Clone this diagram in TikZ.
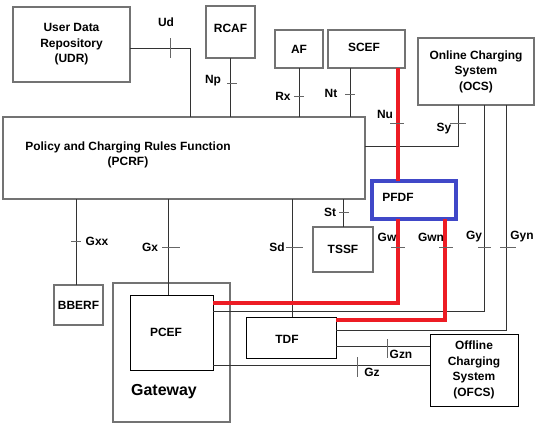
\documentclass[tikz,border=0pt]{standalone}
\usepackage{fontspec}
\setmainfont{Liberation Sans}
\usepackage{xcolor}
\definecolor{ifred}{RGB}{237,28,36}
\definecolor{ifblue}{RGB}{64,72,200}

\begin{document}
\begin{tikzpicture}[x=1bp,y=-1bp,every node/.style={font=\fontsize{12}{15.5}\selectfont\bfseries}]
    \tikzstyle{grey box}=[draw=black!55,line width=1.3bp,inner sep=0,outer sep=0,align=center]
    \tikzstyle{black box}=[draw=black,line width=1bp,inner sep=0,outer sep=0,align=center]
    \tikzstyle{pf box}=[draw=ifblue,line width=4bp,inner sep=0,outer sep=0]
    \tikzstyle{link}=[draw=black!80,line width=1bp]
    \tikzstyle{red link}=[draw=ifred,line width=4bp]
    \tikzstyle{tick mark}=[draw=black!60,line width=1bp]
    \useasboundingbox (0,0) rectangle (536,424);

    % functions
    \node(UDR)[grey box,minimum width=117bp,minimum height=75bp] at (71.5,44.5) {User Data\\Repository\\(UDR)};
    \node(RCAF)[grey box,minimum width=49bp,minimum height=52bp,label={[yshift=4bp]center:RCAF}] at (230.5,32) {};
    \node(PCRF)[grey box,minimum width=362bp,minimum height=82bp,
        label={[align=center,xshift=-56bp,yshift=3bp]center:{Policy and Charging Rules Function\\(PCRF)}}] at (184,158) {};
    \node(AF)[grey box,minimum width=48bp,minimum height=38bp] at (299,49) {AF};
    \node(SCEF)[grey box,minimum width=77bp,minimum height=38bp,label={[xshift=-2.5bp,yshift=2bp]center:SCEF}] at (366.5,49) {};
    \node(OCS)[grey box,minimum width=116bp,minimum height=67bp] at (476,71.5) {Online Charging\\System\\(OCS)};
    \node(PFDF)[pf box,minimum width=84bp,minimum height=38bp,label={[xshift=-16bp,yshift=3bp]center:PFDF}] at (414,200) {};
    \node(TSSF)[grey box,minimum width=60bp,minimum height=45bp] at (343,249.5) {TSSF};
    \node(BBERF)[grey box,minimum width=49bp,minimum height=40bp] at (78.5,305) {BBERF};
    \node(GW)[grey box,minimum width=117bp,minimum height=139bp,
        label={[xshift=-7.5bp,yshift=-39.5bp,font=\fontsize{16}{18}\selectfont\bfseries]center:Gateway}] at (171.5,352.5) {};
    \node(PCEF)[black box,minimum width=83bp,minimum height=75bp,label={[xshift=-5.5bp]center:PCEF}] at (171.5,332.5) {};
    \node(TDF)[black box,minimum width=90bp,minimum height=41bp,label={[xshift=-4bp,yshift=-2bp]center:TDF}] at (291,337.5) {};
    \node(OFCS)[black box,minimum width=88bp,minimum height=72bp] at (474,370) {Offline\\Charging\\System\\(OFCS)};

    % reference points
    \draw[link] (UDR.east |- 0,48) -| (PCRF.north -| 190,0);
    \draw[link] (RCAF.south) -- (RCAF.south |- PCRF.north);
    \draw[link] (AF.south) -- (AF.south |- PCRF.north);
    \draw[link] (SCEF.south -| 350,0) -- (PCRF.north -| 350,0);
    \draw[link] (PCRF.east |- 0,146) -| (OCS.south -| 458,0);
    \draw[link] (PCEF.east |- 0,311) -| (OCS.south -| 484,0);
    \draw[link] (TDF.east |- 0,330) -| (OCS.south -| 506,0);
    \draw[link] (PCRF.south -| TSSF.north) -- (TSSF.north);
    \draw[link] (PCRF.south -| 292,0) -- (TDF.north -| 292,0);
    \draw[link] (PCRF.south -| 76,0) -- (BBERF.north -| 76,0);
    \draw[link] (PCRF.south -| 168,0) -- (PCEF.north -| 168,0);
    \draw[link] (TDF.east |- 0,346) -- (OFCS.west |- 0,346);
    \draw[link] (PCEF.east |- 0,365) -- (OFCS.west |- 0,365);

    % PFDF paths
    \draw[red link] (SCEF.south -| 398,0) -- (PFDF.north -| 398,0);
    \draw[red link] (PCEF.east |- 0,303) -| (PFDF.south -| 398,0);
    \draw[red link] (TDF.east |- 0,320) -| (PFDF.south -| 445,0);

    % ticks
    \draw[tick mark] (170,38) -- (170,58);
    \draw[tick mark] (227,83) -- (237,83);
    \draw[tick mark] (294,96) -- (304,96);
    \draw[tick mark] (345,94) -- (355,94);
    \draw[tick mark] (390,123) -- (404,123);
    \draw[tick mark] (450,123) -- (466,123);
    \draw[tick mark] (339,212) -- (349,212);
    \draw[tick mark] (286,247) -- (303,247);
    \draw[tick mark] (391,247) -- (405,247);
    \draw[tick mark] (439,247) -- (453,247);
    \draw[tick mark] (478,247) -- (491,247);
    \draw[tick mark] (500,247) -- (516,247);
    \draw[tick mark] (71,241) -- (81,241);
    \draw[tick mark] (162,247) -- (180,247);
    \draw[tick mark] (387,339) -- (387,358);
    \draw[tick mark] (357,357) -- (357,377);

    % interface names
    \node(Ud) at (166,22) {Ud};
    \node(Np) at (213,81) {Np};
    \node(Rx) at (283,96) {Rx};
    \node(Nt) at (331,93) {Nt};
    \node(Nu) at (385,114) {Nu};
    \node(Sy) at (444,129) {Sy};
    \node(St) at (330,212) {St};
    \node(Sd) at (277,247) {Sd};
    \node(Gw) at (387,237) {Gw};
    \node(Gwn) at (431,237) {Gwn};
    \node(Gy) at (474,237) {Gy};
    \node(Gyn) at (522,237) {Gyn};
    \node(Gxx) at (97,241) {Gxx};
    \node(Gx) at (150,247) {Gx};
    \node(Gzn) at (401,354) {Gzn};
    \node(Gz) at (372,372) {Gz};
\end{tikzpicture}
\end{document}
